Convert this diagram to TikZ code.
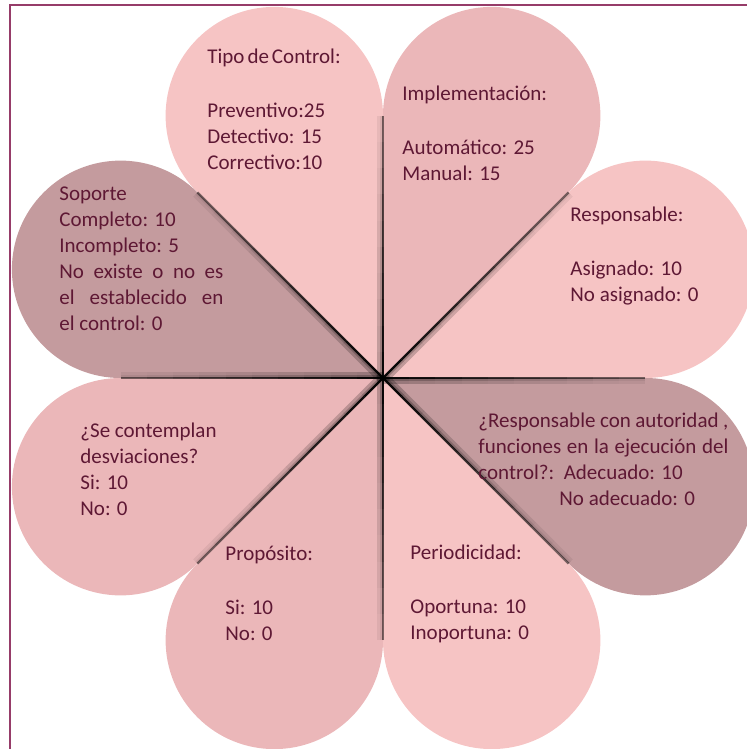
\documentclass[tikz,border=0pt]{standalone}
\usepackage{fontspec}
\setmainfont{Carlito}
\usetikzlibrary{calc}
\definecolor{petallight}{RGB}{246,196,196}
\definecolor{petalmid}{RGB}{235,183,185}
\definecolor{petaldark}{RGB}{196,155,158}
\definecolor{framemaroon}{RGB}{150,60,105}
\definecolor{textmaroon}{RGB}{94,24,52}
\def\tdist{262.4}
\def\prad{108.7}
\tikzset{
  petaltext/.style={anchor=north west, inner sep=0pt, align=left, text=textmaroon,
    font=\fontsize{10.5}{13}\selectfont},
  framerule/.style={framemaroon, line width=1pt}
}

\begin{document}
\begin{tikzpicture}[x=0.5pt, y=0.5pt]
  \useasboundingbox (0,0) rectangle (747,749);
  \clip (0,0) rectangle (747,749);
  \coordinate (O) at (383,371);

  % Petals
  \foreach \ang/\col in {112.5/petallight, 67.5/petalmid, 22.5/petallight, -22.5/petaldark,
                         -67.5/petallight, -112.5/petalmid, -157.5/petalmid, 157.5/petaldark} {
    \pgfmathsetmacro\tang{\ang-22.5}
    \pgfmathsetmacro\sang{\ang-112.5}
    \pgfmathsetmacro\eang{\ang+112.5}
    \fill[\col] (O) -- ++(\tang:\tdist) arc[start angle=\sang, end angle=\eang, radius=\prad] -- cycle;
  }

  % Shadows along the seams
  \foreach \ang/\side in {90/90, 45/-90, 0/-90, -45/90, -90/-90, -135/-90, 180/-90, 135/90} {
    \foreach \k in {0,...,9} {
      \pgfmathsetmacro\ra{\k*\tdist/10}
      \pgfmathsetmacro\rb{(\k+1)*\tdist/10}
      \pgfmathsetmacro\op{0.95-0.05*\k}
      \pgfmathsetmacro\sop{0.22-0.018*\k}
      \pgfmathsetmacro\dir{\ang+\side}
      \fill[black, opacity=\sop] ($(O)+(\ang:\ra)$) -- ($(O)+(\ang:\rb)$)
        -- ($(O)+(\ang:\rb)+(\dir:6)$) -- ($(O)+(\ang:\ra)+(\dir:6)$) -- cycle;
      \fill[black, opacity=\sop] ($(O)+(\ang:\ra)$) -- ($(O)+(\ang:\rb)$)
        -- ($(O)+(\ang:\rb)+(\dir:3)$) -- ($(O)+(\ang:\ra)+(\dir:3)$) -- cycle;
      \draw[black, line width=1.1pt, opacity=\op] ($(O)+(\ang:\ra)$) -- ($(O)+(\ang:\rb)$);
    }
  }

  % Frame
  \draw[framerule] (9.5,-10) -- (9.5,743.5) -- (760,743.5);

  % Labels
  \node[petaltext] (tipo) at (207,704.2) {\strut Tipo\hspace{1.5pt}de\hspace{1.5pt}Control:\\[14pt]
    Preventivo:25\\ Detectivo: 15\\ Correctivo:10};
  \node[petaltext] (impl) at (402,667.2) {\strut Implementación:\\[14pt]
    Automático: 25\\ Manual: 15};
  \node[petaltext] (resp) at (570,545.7) {\strut Responsable:\\[14pt]
    Asignado: 10\\ No asignado: 0};
  \node[petaltext] (soporte) at (59,567.2) {\strut Soporte\\ Completo: 10\\ Incompleto: 5\\
    \makebox[82pt][s]{No existe o no es}\\ \makebox[82pt][s]{el establecido en}\\ el control: 0};
  \node[petaltext] (autoridad) at (478,340.5) {\strut\makebox[125pt][s]{¿Responsable con autoridad ,}\\
    \makebox[125pt][s]{funciones en la ejecución del}\\ control?:\ \ Adecuado: 10\\
    \hspace*{40.5pt}No adecuado: 0};
  \node[petaltext] (contempla) at (80,330.5) {\strut ¿Se contemplan\\ desviaciones?\\ Si: 10\\ No: 0};
  \node[petaltext] (proposito) at (225,207.2) {\strut Propósito:\\[14pt] Si: 10\\ No: 0};
  \node[petaltext] (periodicidad) at (410,208.2) {\strut Periodicidad:\\[14pt]
    Oportuna: 10\\ Inoportuna: 0};
\end{tikzpicture}
\end{document}
